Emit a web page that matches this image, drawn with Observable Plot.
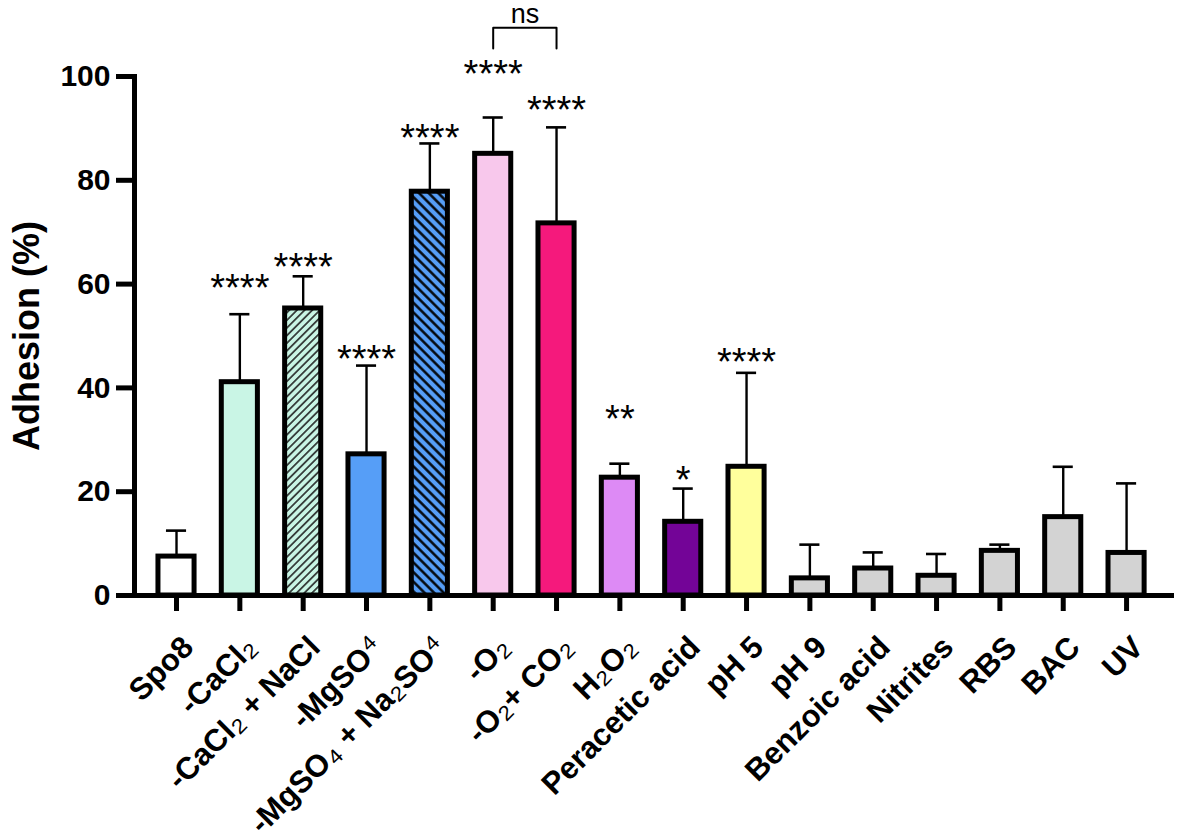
<!DOCTYPE html>
<html><head><meta charset="utf-8">
<script src="https://cdn.jsdelivr.net/npm/d3@7"></script>
<script src="https://cdn.jsdelivr.net/npm/@observablehq/plot@0.6"></script>
<style>body{margin:0;background:#fff} #chart{width:1181px;height:839px}</style>
</head><body><div id="chart"></div>
<script>
const categories = ["Spo8","-CaCl₂","-CaCl₂ + NaCl","-MgSO⁴","-MgSO₄ + Na₂SO⁴","-O₂","-O₂+ CO₂","H₂O₂","Peracetic acid","pH 5","pH 9","Benzoic acid","Nitrites","RBS","BAC","UV"];
const means = [7.5, 41.1, 55.3, 27.2, 77.8, 85.1, 71.7, 22.7, 14.2, 24.8, 3.3, 5.2, 3.8, 8.6, 15.1, 8.2];
const errorTops = [12.5, 54.2, 61.5, 44.3, 87.1, 92.1, 90.2, 25.4, 20.6, 42.9, 9.8, 8.3, 8.0, 9.8, 24.8, 21.6];
const fills = ["#ffffff","#c9f5e5","url(#hatchMint)","#569ef7","url(#hatchBlue)","#f8c8ec","#f5197c","#dd8af5","#730497","#ffff9c","#d3d3d3","#d3d3d3","#d3d3d3","#d3d3d3","#d3d3d3","#d3d3d3"];
const stars = ["","****","****","****","****","****","****","**","*","****","","","","","",""];
const starY = [null,61.1,65.1,47.4,90.0,102.3,95.4,35.8,24.1,46.8,null,null,null,null,null,null];
const yTicks = [0,20,40,60,80,100];
const bracketGroups = ["-O₂","-O₂","-O₂+ CO₂","-O₂+ CO₂"];
const bracketY = [105.4,109.4,109.4,105.4];
const nsLabel = "ns";
const nsY = 112.0;
const yLabel = "Adhesion (%)";

const rows = categories.map((name,i)=>({name, mean: means[i], hi: errorTops[i], fill: fills[i]}));
const starRows = categories.map((name,i)=>({name, y: starY[i], stars: stars[i]})).filter(d=>d.stars);
const bracket = bracketGroups.map((name,i)=>({name, y: bracketY[i]}));

const font = "'Liberation Sans', Arial, Helvetica, sans-serif";
const plot = Plot.plot({
  width: 1181, height: 839,
  marginTop: 76, marginBottom: 244, marginLeft: 134, marginRight: 7,
  style: {fontFamily: font, color: "#000", background: "#fff", overflow: "visible"},
  x: {domain: categories, paddingInner: 0.43, paddingOuter: 0.425, align: 0.445, round: false, label: null},
  y: {domain: [0, 100], label: null},
  color: {type: "identity"},
  marks: [
    Plot.ruleX(rows, {x: "name", y1: "mean", y2: "hi", strokeWidth: 2.4, stroke: "#000"}),
    Plot.tickY(rows, {x: "name", y: "hi", strokeWidth: 2.6, stroke: "#000", insetLeft: 8, insetRight: 8}),
    Plot.barY(rows, {x: "name", y: "mean", fill: "fill", stroke: "#000", strokeWidth: 5}),
    Plot.ruleY([0], {strokeWidth: 5, stroke: "#000"}),
    Plot.frame({anchor: "left", strokeWidth: 5, stroke: "#000"}),
    Plot.axisY({ticks: yTicks, tickSize: 18, strokeWidth: 5, fontSize: 30, fontWeight: "bold", tickPadding: 6, label: null}),
    Plot.axisX({tickSize: 16, strokeWidth: 5, fill: "none", label: null}),
    Plot.axisX({tickSize: 0, tickRotate: -45, fontSize: 31, fontWeight: "bold", textAnchor: "end", lineAnchor: "top", tickPadding: 38, dx: 3, label: null}),
    Plot.text(starRows, {x: "name", y: "y", text: "stars", fontSize: 38, dy: 10}),
    Plot.line(bracket, {x: "name", y: "y", strokeWidth: 2, stroke: "#000"}),
    Plot.text([nsLabel], {x: () => "-O₂", y: () => nsY, fontSize: 27, dx: 31.7}),
    Plot.text([yLabel], {frameAnchor: "left", textAnchor: "middle", rotate: -90, dx: -107, fontSize: 36, fontWeight: "bold"})
  ]
});

// hatch patterns
const defs = d3.select(plot).insert("defs", ":first-child");
function hatch(id, size, angle, bg, lineColor, lw) {
  const p = defs.append("pattern").attr("id", id).attr("patternUnits", "userSpaceOnUse")
    .attr("width", size).attr("height", size).attr("patternTransform", `rotate(${angle})`);
  p.append("rect").attr("width", size).attr("height", size).attr("fill", bg);
  p.append("line").attr("x1", size/2).attr("x2", size/2).attr("y1", -1).attr("y2", size+1)
    .attr("stroke", lineColor).attr("stroke-width", lw);
}
hatch("hatchMint", 5.4, 45, "#c9f5e5", "#1a1a1a", 1.5);
hatch("hatchBlue", 6.8, -45, "#569ef7", "#000", 2.4);

// lighter weight for sub/superscript digits
const scriptRe = /[₀-₉⁰¹²³⁴-⁹]/;
plot.querySelectorAll('[aria-label="x-axis tick label"] text').forEach(t => {
  const s = t.textContent;
  if (!scriptRe.test(s)) return;
  t.textContent = "";
  for (const part of s.match(/[₀-₉⁰¹²³⁴-⁹]+|[^₀-₉⁰¹²³⁴-⁹]+/g)) {
    const ts = document.createElementNS("http://www.w3.org/2000/svg", "tspan");
    ts.textContent = part;
    if (scriptRe.test(part)) { ts.setAttribute("font-weight", "normal"); ts.setAttribute("font-size", "1.15em"); }
    t.appendChild(ts);
  }
});

document.getElementById("chart").appendChild(plot);
</script>
</body></html>
